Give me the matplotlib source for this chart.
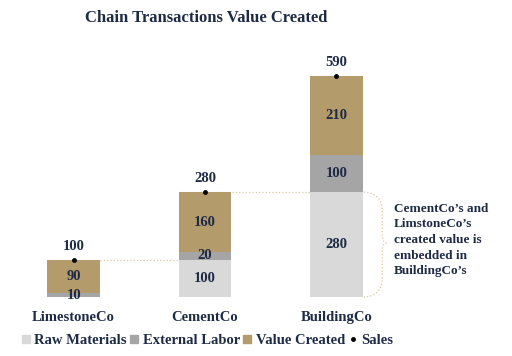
import matplotlib
matplotlib.use("Agg")
import matplotlib.pyplot as plt
from matplotlib.path import Path
from matplotlib.patches import PathPatch
from matplotlib.lines import Line2D

plt.rcParams['font.family'] = ['Liberation Serif', 'DejaVu Serif']
plt.rcParams['font.weight'] = 'bold'

# data
companies = ['LimestoneCo', 'CementCo', 'BuildingCo']
raw_materials = [0, 100, 280]
external_labor = [10, 20, 100]
value_created = [90, 160, 210]
sales = [100, 280, 590]

c_raw = '#D9D9D9'
c_labor = '#A5A5A5'
c_value = '#B49B6B'
c_text = '#1F2A44'
c_dots = '#D9C9A5'

fig = plt.figure(figsize=(5.12, 3.56), dpi=100)
ax = fig.add_axes([8/512, 59/356, 394/512, 243.5/356])

x = list(range(len(companies)))
w = 0.4
ax.bar(x, raw_materials, w, color=c_raw, zorder=2)
ax.bar(x, external_labor, w, bottom=raw_materials, color=c_labor, zorder=2)
bot2 = [r + l for r, l in zip(raw_materials, external_labor)]
ax.bar(x, value_created, w, bottom=bot2, color=c_value, zorder=2)
ax.plot(x, sales, ls='none', marker='o', ms=2.5, color='black', zorder=4)

# segment labels
for i in x:
    if raw_materials[i] > 0:
        ax.text(i, raw_materials[i] / 2, str(raw_materials[i]), ha='center',
                va='center', fontsize=10.5, color=c_text, zorder=5)
    ax.text(i, raw_materials[i] + external_labor[i] / 2, str(external_labor[i]),
            ha='center', va='center', fontsize=10.5, color=c_text, zorder=5)
    ax.text(i, bot2[i] + value_created[i] / 2, str(value_created[i]),
            ha='center', va='center', fontsize=10.5, color=c_text, zorder=5)
    ax.annotate(str(sales[i]), (i, sales[i]), xytext=(0, 5),
                textcoords='offset points', ha='center', va='bottom',
                fontsize=10.5, color=c_text)

# dotted connectors
ax.plot([0.2, 0.8], [sales[0], sales[0]], ls=':', lw=0.9, color=c_dots, zorder=1)
ax.plot([0.8, 1.8], [sales[1], sales[1]], ls=':', lw=0.9, color=c_dots, zorder=1)

# curly brace next to BuildingCo
verts = [(2.21, 280), (2.36, 278), (2.35, 220),
         (2.35, 170),
         (2.35, 144), (2.38, 144),
         (2.35, 144), (2.35, 118),
         (2.35, 60),
         (2.36, 2), (2.21, 0)]
codes = [Path.MOVETO, Path.CURVE3, Path.CURVE3,
         Path.LINETO,
         Path.CURVE3, Path.CURVE3,
         Path.CURVE3, Path.CURVE3,
         Path.LINETO,
         Path.CURVE3, Path.CURVE3]
ax.add_patch(PathPatch(Path(verts, codes), fill=False, ls=':', lw=0.9,
                       edgecolor=c_dots, clip_on=False))
ax.text(2.44, 152, "CementCo’s and\nLimstoneCo’s\ncreated value is\nembedded in\nBuildingCo’s",
        ha='left', va='center', fontsize=9.5, color=c_text, linespacing=1.4,
        clip_on=False)

ax.axhline(0, color='#EFEFEF', lw=0.8, zorder=1)
ax.set_xlim(-0.5, 2.5)
ax.set_ylim(0, 650)
ax.set_xticks(x)
ax.set_xticklabels(companies, fontsize=10.5, color=c_text)
ax.tick_params(axis='x', length=0, pad=10)
ax.set_yticks([])
for s in ax.spines.values():
    s.set_visible(False)

fig.text(206/512, 1 - 18/356, 'Chain Transactions Value Created',
         ha='center', va='center', fontsize=12, color=c_text)

handles = [Line2D([], [], ls='none', marker='s', ms=6, color=c_raw),
           Line2D([], [], ls='none', marker='s', ms=6, color=c_labor),
           Line2D([], [], ls='none', marker='s', ms=6, color=c_value),
           Line2D([], [], ls='none', marker='o', ms=2.5, color='black')]
fig.legend(handles, ['Raw Materials', 'External Labor', 'Value Created', 'Sales'],
           loc='center', bbox_to_anchor=(207/512, 16/356), ncol=4, frameon=False,
           fontsize=10.5, handlelength=0.7, handletextpad=0.25, columnspacing=0.15,
           labelcolor=c_text)

fig.savefig('out.png', dpi=100)
